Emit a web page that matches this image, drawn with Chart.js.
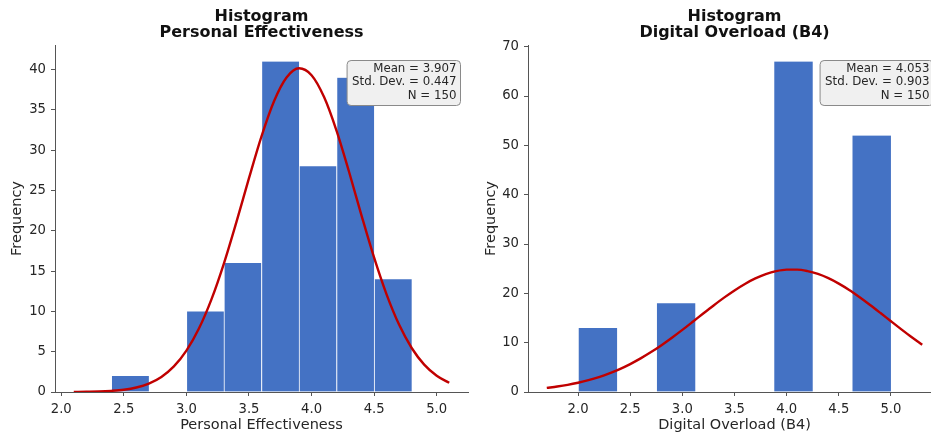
<!DOCTYPE html>
<html>
<head>
<meta charset="utf-8">
<script src="https://cdn.jsdelivr.net/npm/chart.js@4.4.1/dist/chart.umd.min.js"></script>
<style>
  html, body { margin: 0; padding: 0; background: #fff; overflow: hidden; }
  #wrap { position: relative; width: 931px; height: 436px; overflow: hidden; }
  .box { position: absolute; top: 0; height: 436px; }
</style>
</head>
<body>
<div id="wrap">
  <div class="box" style="left:0;width:470px"><canvas id="c1"></canvas></div>
  <div class="box" style="left:470px;width:480px"><canvas id="c2"></canvas></div>
</div>
<script>
// Personal Effectiveness: bin centres (width 0.3) and counts
const peBins = [2.55, 2.85, 3.15, 3.45, 3.75, 4.05, 4.35, 4.65];
const peCounts = [2, 0, 10, 16, 41, 28, 39, 14];
// normal curve
const peCurveX = [2.1, 2.2, 2.3, 2.4, 2.5, 2.6, 2.7, 2.8, 2.9, 3.0, 3.1, 3.2, 3.3, 3.4, 3.5, 3.6,
  3.7, 3.8, 3.9, 4.0, 4.1, 4.2, 4.3, 4.4, 4.5, 4.6, 4.7, 4.8, 4.9, 5.0, 5.1];
const peCurveY = [0.01, 0.03, 0.06, 0.14, 0.28, 0.56, 1.05, 1.87, 3.17, 5.13, 7.87, 11.49, 15.97,
  21.11, 26.53, 31.72, 36.08, 39.02, 40.16, 39.3, 36.59, 32.4, 27.29, 21.86, 16.66, 12.08, 8.33,
  5.46, 3.4, 2.02, 1.14];
const peStats = ['Mean = 3.907', 'Std. Dev. = 0.447', 'N = 150'];

// Digital Overload (B4): bin centres (width 0.375) and counts
const doBins = [2.1875, 2.5625, 2.9375, 3.3125, 3.6875, 4.0625, 4.4375, 4.8125];
const doCounts = [13, 0, 18, 0, 0, 67, 0, 52];
const doCurveX = [1.7, 1.8, 1.9, 2.0, 2.1, 2.2, 2.3, 2.4, 2.5, 2.6, 2.7, 2.8, 2.9, 3.0, 3.1, 3.2,
  3.3, 3.4, 3.5, 3.6, 3.7, 3.8, 3.9, 4.0, 4.1, 4.2, 4.3, 4.4, 4.5, 4.6, 4.7, 4.8, 4.9, 5.0, 5.1,
  5.2, 5.3];
const doCurveY = [0.83, 1.11, 1.45, 1.88, 2.4, 3.03, 3.78, 4.65, 5.66, 6.81, 8.09, 9.49, 11.0,
  12.59, 14.24, 15.91, 17.55, 19.13, 20.6, 21.91, 23.02, 23.89, 24.5, 24.81, 24.82, 24.52, 23.94,
  23.08, 21.98, 20.69, 19.22, 17.65, 16.01, 14.34, 12.69, 11.09, 9.58];
const doStats = ['Mean = 4.053', 'Std. Dev. = 0.903', 'N = 150'];

const FONT = 'DejaVu Sans';
const TXT = '#262626';
const AXIS = '#555';

const statBox = {
  id: 'statBox',
  afterDraw(chart, args, opts) {
    const { ctx, chartArea } = chart;
    const lines = opts.lines;
    ctx.save();
    ctx.font = '11.8px "' + FONT + '"';
    let w = 0;
    lines.forEach(l => { w = Math.max(w, ctx.measureText(l).width); });
    const right = chartArea.right - 8;
    const top = chartArea.top + 15;
    const bw = w + 9, bh = 45;
    const left = right - bw;
    ctx.beginPath();
    ctx.roundRect(left + 0.5, top + 0.5, bw, bh, 4);
    ctx.fillStyle = '#f0f0f0';
    ctx.fill();
    ctx.strokeStyle = '#8a8a8a';
    ctx.lineWidth = 1;
    ctx.stroke();
    ctx.fillStyle = TXT;
    ctx.textAlign = 'right';
    ctx.textBaseline = 'middle';
    lines.forEach((l, i) => ctx.fillText(l, right - 3.5, top + 8.5 + i * 13.5));
    ctx.restore();
  }
};

function makeChart(id, o) {
  const bars = o.bins.map((x, i) => ({ x: x, y: o.counts[i] }));
  const curve = o.curveX.map((x, i) => ({ x: x, y: o.curveY[i] }));
  return new Chart(document.getElementById(id), {
    type: 'bar',
    data: {
      datasets: [{
        type: 'line',
        data: curve,
        borderColor: '#C00000',
        borderWidth: 2.4,
        pointRadius: 0,
        cubicInterpolationMode: 'monotone',
        order: 0
      }, {
        type: 'bar',
        data: bars,
        backgroundColor: '#4472C4',
        borderColor: '#ffffff',
        borderWidth: { left: 1, right: 0, top: 0, bottom: 0 },
        borderSkipped: false,
        barPercentage: 1,
        categoryPercentage: 1,
        order: 1
      }]
    },
    options: {
      responsive: true,
      maintainAspectRatio: false,
      animation: false,
      layout: { padding: { top: 0, right: o.padRight, bottom: 0, left: 0 } },
      plugins: {
        legend: { display: false },
        tooltip: { enabled: false },
        title: {
          display: true,
          fullSize: false,
          text: ['Histogram', o.title],
          color: '#111',
          font: { family: FONT, size: 16, weight: 'bold', lineHeight: 1.0 },
          padding: { top: 9, bottom: 4 }
        },
        statBox: { lines: o.stats }
      },
      scales: {
        x: {
          type: 'linear',
          offset: false,
          min: o.xMin,
          max: o.xMax,
          afterFit: s => { s.height = 44; },
          ticks: {
            stepSize: 0.5,
            includeBounds: false,
            color: TXT,
            padding: 6,
            maxRotation: 0,
            font: { family: FONT, size: 13.2 },
            callback: v => v.toFixed(1)
          },
          grid: { display: true, offset: false, drawOnChartArea: false, tickLength: 4, color: AXIS },
          border: { display: true, color: AXIS, width: 1 },
          title: {
            display: true,
            text: o.xLabel,
            color: TXT,
            font: { family: FONT, size: 14.5 },
            padding: { top: 0, bottom: 2 }
          }
        },
        y: {
          min: 0,
          max: o.yMax,
          afterFit: s => { s.width = o.yWidth; },
          ticks: {
            stepSize: o.yStep,
            includeBounds: false,
            color: TXT,
            padding: 5,
            font: { family: FONT, size: 13.2 }
          },
          grid: { display: true, drawOnChartArea: false, tickLength: 4, color: AXIS },
          border: { display: true, color: AXIS, width: 1 },
          title: {
            display: true,
            text: 'Frequency',
            color: TXT,
            font: { family: FONT, size: 14.5 },
            padding: { top: o.yTitlePad, bottom: 0 }
          }
        }
      }
    },
    plugins: [statBox]
  });
}

makeChart('c1', {
  bins: peBins, counts: peCounts, curveX: peCurveX, curveY: peCurveY, stats: peStats,
  title: 'Personal Effectiveness', xLabel: 'Personal Effectiveness',
  xMin: 1.95, xMax: 5.25, yMax: 43.05, yStep: 5, yWidth: 55, yTitlePad: 9, padRight: 2
});
makeChart('c2', {
  bins: doBins, counts: doCounts, curveX: doCurveX, curveY: doCurveY, stats: doStats,
  title: 'Digital Overload (B4)', xLabel: 'Digital Overload (B4)',
  xMin: 1.52, xMax: 5.48, yMax: 70.35, yStep: 10, yWidth: 58, yTitlePad: 13, padRight: 9
});
</script>
</body>
</html>
